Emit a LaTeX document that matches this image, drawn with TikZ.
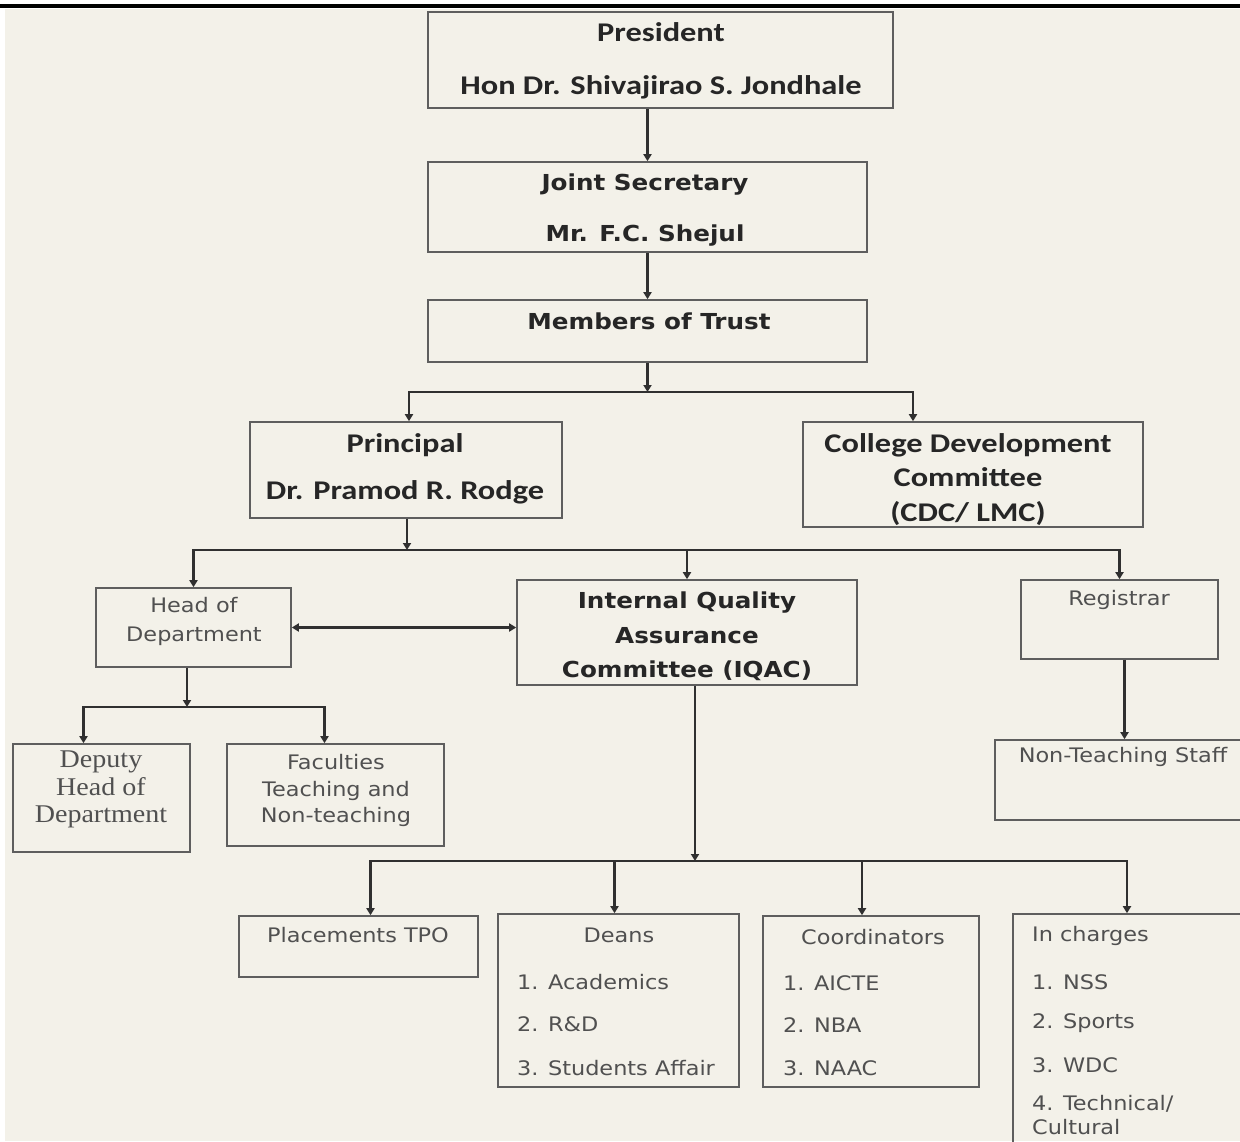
\documentclass[tikz,border=0pt]{standalone}
\usepackage{fontspec}
\setmainfont{Carlito}
\newfontfamily\calib[FakeStretch=1.2]{Carlito}
\newfontfamily\verd[FakeStretch=1.12]{DejaVu Sans}
\newfontfamily\tms[FakeStretch=1.1]{Liberation Serif}
\usepackage{tikz}
\usetikzlibrary{arrows.meta}
\definecolor{cream}{HTML}{F3F1E9}
\definecolor{boxgray}{HTML}{5E5E5E}
\definecolor{linegray}{HTML}{303030}
\definecolor{ink}{HTML}{262626}
\definecolor{soft}{HTML}{505050}
\tikzset{box/.style = {draw=boxgray, line width=1.6pt, inner sep=0pt}}
\tikzset{arr/.style = {-{Triangle[length=7pt,width=8pt]}, line width=2.2pt, draw=linegray}}
\tikzset{top/.style = {font=\calib\bfseries\fontsize{27}{#1}\selectfont, text=ink, align=center, inner sep=0pt}}
\tikzset{mid/.style = {font=\verd\bfseries\fontsize{22}{#1}\selectfont, text=ink, align=center, inner sep=0pt}}
\tikzset{lite/.style = {font=\verd\fontsize{20}{#1}\selectfont, text=soft, align=center, inner sep=0pt}}
\tikzset{serf/.style = {font=\tms\fontsize{25.5}{#1}\selectfont, text=soft, align=center, inner sep=0pt}}

\begin{document}
\begin{tikzpicture}[x=1pt, y=-1pt]
    \useasboundingbox (0,0) rectangle (1240,1141);
    \clip (0,0) rectangle (1240,1141);
    \fill[white] (0,0) rectangle (1240,1141);
    \fill[cream] (5,9) rectangle (1240,1141);
    \draw[line width=3.5pt] (0,6) -- (1240,6);

    % trust
    \node[box, minimum width=465pt, minimum height=96pt] (pres) at (660.5, 60) {};
    \node[top=53] (pres-t) at (661, 60.5) {President\\Hon Dr. Shivajirao S. Jondhale};
    \node[box, minimum width=439pt, minimum height=90pt] (js) at (647.5, 207) {};
    \node[mid=51] (js-t) at (645, 210.5) {Joint Secretary\\Mr. F.C. Shejul};
    \node[box, minimum width=439pt, minimum height=62pt] (mt) at (647.5, 331) {};
    \node[mid=30] (mt-t) at (649, 321) {Members of Trust};

    \node[box, minimum width=312pt, minimum height=96pt] (prin) at (406, 470) {};
    \node[top=47] (prin-t) at (405, 468.5) {Principal\\Dr. Pramod R. Rodge};
    \node[box, minimum width=340pt, minimum height=105pt] (cdc) at (973, 474.5) {};
    \node[top=34.5] (cdc-t) at (968, 479.5) {College Development\\Committee\\(CDC/ LMC)};

    % college
    \node[box, minimum width=195pt, minimum height=79pt] (hod) at (193.5, 627.5) {};
    \node[lite=29] (hod-t) at (194, 621.5) {Head of\\Department};
    \node[box, minimum width=340pt, minimum height=105pt] (iqac) at (687, 632.5) {};
    \node[mid=34.5] (iqac-t) at (687, 636.5) {Internal Quality\\Assurance\\Committee (IQAC)};
    \node[box, minimum width=197pt, minimum height=79pt] (reg) at (1119.5, 619.5) {};
    \node[lite=24] (reg-t) at (1119, 600) {Registrar};
    \node[box, minimum width=250pt, minimum height=80pt] (nts) at (1120, 780) {};
    \node[lite=24] (nts-t) at (1123, 757) {Non-Teaching Staff};

    \node[box, minimum width=177pt, minimum height=108pt] (dep) at (101.5, 798) {};
    \node[serf=27.5] (dep-t) at (101, 789.5) {Deputy\\Head of\\Department};
    \node[box, minimum width=217pt, minimum height=102pt] (fac) at (335.5, 795) {};
    \node[lite=26.5] (fac-t) at (336, 790.5) {Faculties\\Teaching and\\Non-teaching};

    % iqac cells
    \node[box, minimum width=239pt, minimum height=61pt] (tpo) at (358.5, 946.5) {};
    \node[lite=24] (tpo-t) at (358, 935) {Placements TPO};
    \node[box, minimum width=241pt, minimum height=173pt] (deans) at (618.5, 1000.5) {};
    \node[lite=24] (deans-t) at (619, 935) {Deans};
    \node[lite=24, anchor=west] (deans-1) at (517, 982) {1. Academics};
    \node[lite=24, anchor=west] (deans-2) at (517, 1024) {2. R\&D};
    \node[lite=24, anchor=west] (deans-3) at (517, 1068) {3. Students Affair};
    \node[box, minimum width=216pt, minimum height=171pt] (coord) at (871, 1001.5) {};
    \node[lite=24] (coord-t) at (873, 937) {Coordinators};
    \node[lite=24, anchor=west] (coord-1) at (783, 983) {1. AICTE};
    \node[lite=24, anchor=west] (coord-2) at (783, 1025) {2. NBA};
    \node[lite=24, anchor=west] (coord-3) at (783, 1068) {3. NAAC};
    \node[box, minimum width=232pt, minimum height=246pt] (inch) at (1129, 1037) {};
    \node[lite=24, anchor=west] (inch-t) at (1032, 936) {In charges};
    \node[lite=24, anchor=west] (inch-1) at (1032, 982) {1. NSS};
    \node[lite=24, anchor=west] (inch-2) at (1032, 1023) {2. Sports};
    \node[lite=24, anchor=west] (inch-3) at (1032, 1065) {3. WDC};
    \node[lite=24, anchor=west] (inch-4) at (1032, 1104) {4. Technical/};
    \node[lite=24, anchor=west] (inch-5) at (1032, 1127) {Cultural};

    % connectors
    \draw[arr] (js.north |- pres.south) -- (js.north);
    \draw[arr] (js.south) -- (mt.north);
    \coordinate (j1) at (647.5, 392);
    \draw[arr] (mt.south) -- (j1);
    \draw[arr] (j1) -| ([xshift=3pt]prin.north);
    \draw[arr] (j1) -| ([xshift=-60pt]cdc.north);

    \coordinate (j2) at (407, 550);
    \draw[arr] (prin.south -| j2) -- (j2);
    \draw[arr] (j2) -| (hod.north);
    \draw[arr] (j2) -| (iqac.north);
    \draw[arr] (j2) -| (reg.north);
    \draw[arr, {Triangle[length=7pt,width=8pt]}-{Triangle[length=7pt,width=8pt]}] (hod.east) -- (hod.east -| iqac.west);
    \draw[arr] ([xshift=5pt]reg.south) -- ([xshift=5pt]reg.south |- nts.north);

    \coordinate (j3) at (187, 707);
    \draw[arr] (hod.south -| j3) -- (j3);
    \draw[arr] (j3) -| ([xshift=-18pt]dep.north);
    \draw[arr] (j3) -| ([xshift=-11pt]fac.north);

    \coordinate (j4) at (695, 861);
    \draw[arr] (iqac.south -| j4) -- (j4);
    \draw[arr] (j4) -| ([xshift=12pt]tpo.north);
    \draw[arr] (j4) -| ([xshift=-4pt]deans.north);
    \draw[arr] (j4) -| ([xshift=-9pt]coord.north);
    \draw[arr] (j4) -| ([xshift=-2pt]inch.north);
\end{tikzpicture}
\end{document}
